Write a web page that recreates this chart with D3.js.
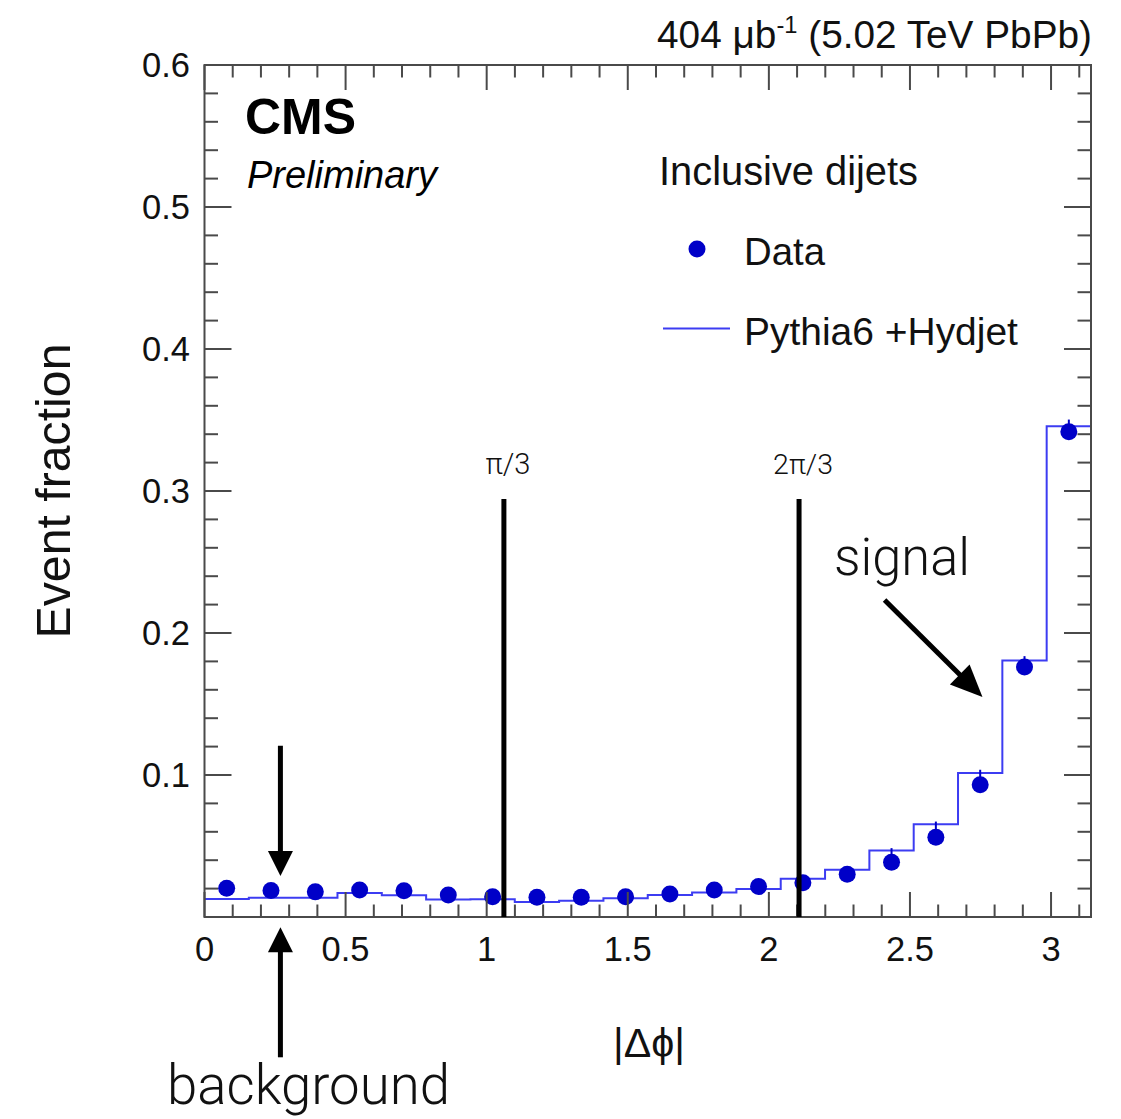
<!DOCTYPE html>
<html>
<head>
<meta charset="utf-8">
<script src="https://cdn.jsdelivr.net/npm/d3@7/dist/d3.min.js"></script>
<style>
  html, body { margin: 0; padding: 0; background: #fff; }
  svg { display: block; }
</style>
</head>
<body>
<svg id="chart" width="1121" height="1119"></svg>
<script>
// ---------------- data ----------------
const nBins = 20;
const binEdges = d3.range(nBins + 1).map(i => i * Math.PI / nBins);
const dataValues = [0.0202, 0.0186, 0.0177, 0.0190, 0.0185, 0.0155, 0.0143, 0.0139, 0.0139, 0.0143,
                    0.0162, 0.0190, 0.0214, 0.0242, 0.0301, 0.0386, 0.0562, 0.0931, 0.1760, 0.3418];
const dataErrUp  = [0.004, 0.004, 0.004, 0.004, 0.004, 0.004, 0.004, 0.004, 0.004, 0.004,
                    0.004, 0.004, 0.004, 0.004, 0.004, 0.0099, 0.0110, 0.0106, 0.0077, 0.0085];
const mcValues   = [0.0126, 0.0136, 0.0136, 0.0169, 0.0153, 0.0123, 0.0125, 0.0106, 0.0115, 0.0132,
                    0.0155, 0.0172, 0.0198, 0.0270, 0.0332, 0.0468, 0.0654, 0.1014, 0.1807, 0.3456];
const yTicks = [0, 0.1, 0.2, 0.3, 0.4, 0.5, 0.6];
const yTickLabels = ["", "0.1", "0.2", "0.3", "0.4", "0.5", "0.6"];
const xTicks = [0, 0.5, 1, 1.5, 2, 2.5, 3];
const xTickLabels = ["0", "0.5", "1", "1.5", "2", "2.5", "3"];
const markerLines = [1.061, 2.107];
const markerLabels = ["π/3", "2π/3"];

// ---------------- layout ----------------
const W = 1121, H = 1119;
const L = 204.5, R = 1091, T = 65, B = 917;
const x = d3.scaleLinear().domain([0, Math.PI]).range([L, R]);
const y = d3.scaleLinear().domain([0, 0.6]).range([B, T]);

const svg = d3.select("#chart");
const FONT = "'Liberation Sans', Arial, Helvetica, sans-serif";
const LIGHT = "Roboto, 'Open Sans', 'Liberation Sans', sans-serif";
const DATA_COL = "#0000c8";
const MC_COL = "#3c3cf2";
const AX_COL = "#4a4a4a";

function fitWidth(sel, target) {
  const n = sel.node();
  const fs = parseFloat(sel.attr("font-size"));
  const w = n.getComputedTextLength();
  if (w > 0) sel.attr("font-size", (fs * target / w).toFixed(2));
  return sel;
}

// ---------------- MC histogram (step) ----------------
const stepPts = [];
mcValues.forEach((v, i) => { stepPts.push([binEdges[i], v]); stepPts.push([binEdges[i + 1], v]); });
svg.append("path")
  .attr("d", d3.line().x(d => x(d[0])).y(d => y(d[1]))(stepPts))
  .attr("fill", "none").attr("stroke", MC_COL).attr("stroke-width", 2);

// ---------------- data points ----------------
const centers = binEdges.slice(0, nBins).map((e, i) => (e + binEdges[i + 1]) / 2);
svg.append("g").selectAll("line").data(dataValues).join("line")
  .attr("x1", (d, i) => x(centers[i])).attr("x2", (d, i) => x(centers[i]))
  .attr("y1", d => y(d)).attr("y2", (d, i) => y(d + dataErrUp[i]))
  .attr("stroke", DATA_COL).attr("stroke-width", 2);
svg.append("g").selectAll("circle").data(dataValues).join("circle")
  .attr("cx", (d, i) => x(centers[i])).attr("cy", d => y(d)).attr("r", 8.5)
  .attr("fill", DATA_COL);

// ---------------- frame & ticks ----------------
const axG = svg.append("g");
axG.append("rect").attr("x", L).attr("y", T).attr("width", R - L).attr("height", B - T)
  .attr("fill", "none").attr("stroke", AX_COL).attr("stroke-width", 2);

const xMinor = d3.range(0, 31.5).map(i => i / 10).filter(v => v <= Math.PI);
xMinor.forEach(v => {
  const major = Math.abs(v * 2 - Math.round(v * 2)) < 1e-6;
  const len = major ? 25 : 12.5;
  axG.append("line").attr("x1", x(v)).attr("x2", x(v)).attr("y1", B).attr("y2", B - len)
    .attr("stroke", AX_COL).attr("stroke-width", 2);
  axG.append("line").attr("x1", x(v)).attr("x2", x(v)).attr("y1", T).attr("y2", T + len)
    .attr("stroke", AX_COL).attr("stroke-width", 2);
});
const yMinor = d3.range(0, 31).map(i => i * 0.02);
yMinor.forEach((v, i) => {
  const major = i % 5 === 0;
  const len = major ? 27 : 13.5;
  axG.append("line").attr("x1", L).attr("x2", L + len).attr("y1", y(v)).attr("y2", y(v))
    .attr("stroke", AX_COL).attr("stroke-width", 2);
  axG.append("line").attr("x1", R).attr("x2", R - len).attr("y1", y(v)).attr("y2", y(v))
    .attr("stroke", AX_COL).attr("stroke-width", 2);
});

// tick labels
svg.append("g").selectAll("text").data(xTicks).join("text")
  .attr("x", d => x(d)).attr("y", 961).attr("text-anchor", "middle")
  .attr("font-family", FONT).attr("font-size", 34.5).attr("fill", "#111")
  .text((d, i) => xTickLabels[i]);
svg.append("g").selectAll("text").data(yTicks).join("text")
  .attr("x", 190).attr("y", d => y(d) + 12).attr("text-anchor", "end")
  .attr("font-family", FONT).attr("font-size", 34.5).attr("fill", "#111")
  .text((d, i) => yTickLabels[i]);

// axis titles
const yt = svg.append("text")
  .attr("transform", `translate(70, ${y(0.3)}) rotate(-90)`)
  .attr("text-anchor", "middle").attr("font-family", FONT).attr("font-size", 48).attr("fill", "#111")
  .text("Event fraction");
fitWidth(yt, 295);
const xt = svg.append("text").attr("x", 613).attr("y", 1057)
  .attr("font-family", FONT).attr("font-size", 42).attr("fill", "#111")
  .text("|Δϕ|");
fitWidth(xt, 72);

// top-right lumi text
const lumi = svg.append("text").attr("x", R + 1).attr("y", 48).attr("text-anchor", "end")
  .attr("font-family", FONT).attr("font-size", 36).attr("fill", "#111");
lumi.append("tspan").text("404 μb");
lumi.append("tspan").attr("font-size", 22).attr("dy", -15).text("-1");
lumi.append("tspan").attr("dy", 15).text(" (5.02 TeV PbPb)");
{
  const w = lumi.node().getComputedTextLength();
  const k = 435 / w;
  lumi.attr("font-size", (36 * k).toFixed(2));
  lumi.selectAll("tspan").filter((d, i) => i === 1).attr("font-size", (22 * k).toFixed(2));
}

// CMS labels
const cms = svg.append("text").attr("x", 245).attr("y", 134)
  .attr("font-family", FONT).attr("font-weight", "bold").attr("font-size", 44).attr("fill", "#000").text("CMS");
fitWidth(cms, 111);
const prelim = svg.append("text").attr("x", 247).attr("y", 188)
  .attr("font-family", FONT).attr("font-style", "italic").attr("font-size", 36).attr("fill", "#000").text("Preliminary");
fitWidth(prelim, 190);

// legend
const inc = svg.append("text").attr("x", 659).attr("y", 185)
  .attr("font-family", FONT).attr("font-size", 38).attr("fill", "#111").text("Inclusive dijets");
fitWidth(inc, 259);
svg.append("circle").attr("cx", 697).attr("cy", 249).attr("r", 8.5).attr("fill", DATA_COL);
const dt = svg.append("text").attr("x", 744).attr("y", 265)
  .attr("font-family", FONT).attr("font-size", 38).attr("fill", "#111").text("Data");
fitWidth(dt, 81);
svg.append("line").attr("x1", 663).attr("x2", 730).attr("y1", 328.5).attr("y2", 328.5)
  .attr("stroke", MC_COL).attr("stroke-width", 2);
const py = svg.append("text").attr("x", 744).attr("y", 345)
  .attr("font-family", FONT).attr("font-size", 38).attr("fill", "#111").text("Pythia6 +Hydjet");
fitWidth(py, 274);

// ---------------- annotations ----------------
const markerLabelWidths = [45, 60];
markerLines.forEach((v, i) => {
  svg.append("line").attr("x1", x(v)).attr("x2", x(v)).attr("y1", 499).attr("y2", B)
    .attr("stroke", "#000").attr("stroke-width", 5);
  const t = svg.append("text").attr("x", x(v) + 4).attr("y", 474).attr("text-anchor", "middle")
    .attr("font-family", LIGHT).attr("font-weight", 300).attr("font-size", 24).attr("fill", "#111")
    .text(markerLabels[i]);
  fitWidth(t, markerLabelWidths[i]);
});

function arrow(x1, y1, x2, y2, headL, headW) {
  const dx = x2 - x1, dy = y2 - y1, len = Math.hypot(dx, dy);
  const ux = dx / len, uy = dy / len;
  const bx = x2 - ux * headL, by = y2 - uy * headL;
  svg.append("line").attr("x1", x1).attr("y1", y1).attr("x2", bx + ux * 2).attr("y2", by + uy * 2)
    .attr("stroke", "#000").attr("stroke-width", 5);
  svg.append("polygon")
    .attr("points", [[x2, y2], [bx - uy * headW / 2, by + ux * headW / 2], [bx + uy * headW / 2, by - ux * headW / 2]].map(p => p.join(",")).join(" "))
    .attr("fill", "#000");
}
// background arrows
arrow(x(0.269), y(0.1206), x(0.269), y(0.0288), 25, 25);
arrow(x(0.269), y(-0.0988), x(0.269), y(-0.0072), 25, 25);
// signal arrow
arrow(x(2.410), y(0.2232), x(2.757), y(0.1549), 32, 28);

const bg = svg.append("text").attr("x", 167).attr("y", 1104)
  .attr("font-family", LIGHT).attr("font-weight", 300).attr("font-size", 50).attr("fill", "#111").text("background");
fitWidth(bg, 283);
const sg = svg.append("text").attr("x", 834).attr("y", 575)
  .attr("font-family", LIGHT).attr("font-weight", 300).attr("font-size", 50).attr("fill", "#111").text("signal");
fitWidth(sg, 136);
</script>
</body>
</html>
